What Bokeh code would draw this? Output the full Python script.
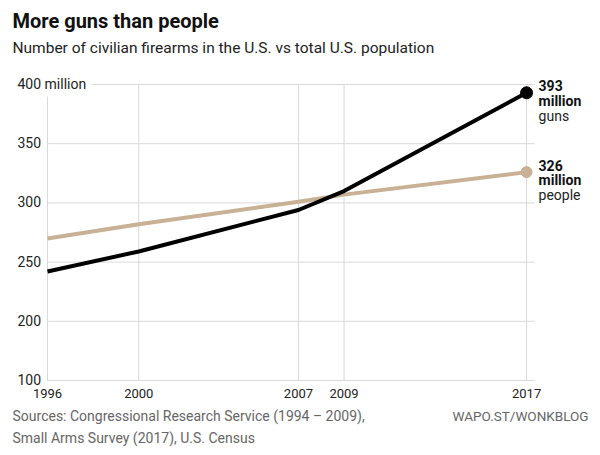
from bokeh.plotting import figure
from bokeh.models import Range1d, Label
from bokeh.core.properties import value
from bokeh.embed import file_html
from bokeh.resources import INLINE

# data
years = [1996, 2000, 2007, 2009, 2017]
guns = [242, 259, 294, 310, 393]          # million civilian firearms
people = [270, 282, 301, 307, 326]        # million U.S. population
y_ticks = [150, 200, 250, 300, 350, 400]  # bottom line is labelled 100 (broken axis)
y_labels = ["100", "200", "250", "300", "350", "400 million"]

# colours / fonts
c_guns = "#000000"
c_people = "#c8b194"
c_grid = "#d9d9d9"
c_text = "#222222"
c_note = "#666666"
FONT = "Roboto"

W, H = 592, 447
p = figure(width=W, height=H, output_backend="svg", toolbar_location=None,
           min_border=0, tools="")
p.x_range = Range1d(1993.94, 2019.89)
p.y_range = Range1d(93.41, 470.95)
p.axis.visible = False
p.grid.visible = False
p.outline_line_color = None
p.background_fill_color = "white"
p.border_fill_color = "white"

# grid lines
p.segment(x0=[years[0]] * len(y_ticks), x1=[years[-1] + 0.35] * len(y_ticks),
          y0=y_ticks, y1=y_ticks, line_color=c_grid, line_width=1)
p.segment(x0=years, x1=years, y0=[y_ticks[0]] * len(years), y1=[y_ticks[-1]] * len(years),
          line_color=c_grid, line_width=1)

# y labels (left aligned, white box hides grid behind "400 million")
p.text(x=[years[0]] * len(y_ticks), y=y_ticks, text=y_labels, x_offset=-35, y_offset=-1,
       text_align="left", text_baseline="middle", text_font=value(FONT),
       text_font_size="14px", text_color=c_text,
       background_fill_color="white", padding=5)

# x labels
p.text(x=years, y=[y_ticks[0]] * len(years), text=[str(y) for y in years], y_offset=13,
       text_align="center", text_baseline="middle", text_font=value(FONT),
       text_font_size="13px", text_color=c_text)

# lines
p.line(years, people, line_color=c_people, line_width=4)
p.line(years, guns, line_color=c_guns, line_width=4)
p.scatter([years[-1]], [people[-1]], size=11, color=c_people)
p.scatter([years[-1]], [guns[-1]], size=12, color=c_guns)

# end labels
for val, word in [(guns[-1], "guns"), (people[-1], "people")]:
    p.text(x=[years[-1]] * 2, y=[val] * 2, text=[str(val), "million"], x_offset=12,
           y_offset=[-7, 8], text_align="left", text_baseline="middle",
           text_font=value(FONT), text_font_style="bold", text_font_size="14px",
           text_color="#111111")
    p.text(x=[years[-1]], y=[val], text=[word], x_offset=12, y_offset=23,
           text_align="left", text_baseline="middle", text_font=value(FONT),
           text_font_size="14px", text_color=c_text)

# title, subtitle, footer
p.add_layout(Label(x=12, y=H - 20, x_units="screen", y_units="screen",
                   text="More guns than people", text_font=FONT, text_font_style="bold",
                   text_font_size="20px", text_color="#111111", text_baseline="middle"))
p.add_layout(Label(x=12, y=H - 47, x_units="screen", y_units="screen",
                   text="Number of civilian firearms in the U.S. vs total U.S. population",
                   text_font=FONT, text_font_size="15.5px", text_color=c_text,
                   text_baseline="middle"))
p.add_layout(Label(x=12, y=H - 415, x_units="screen", y_units="screen",
                   text="Sources: Congressional Research Service (1994 – 2009),",
                   text_font=FONT, text_font_size="14px", text_color=c_note,
                   text_baseline="middle"))
p.add_layout(Label(x=12, y=H - 437, x_units="screen", y_units="screen",
                   text="Small Arms Survey (2017), U.S. Census",
                   text_font=FONT, text_font_size="14px", text_color=c_note,
                   text_baseline="middle"))
p.add_layout(Label(x=588, y=H - 415, x_units="screen", y_units="screen",
                   text="WAPO.ST/WONKBLOG", text_font=FONT, text_font_size="13.5px",
                   text_color=c_note, text_align="right", text_baseline="middle"))

open("out.html", "w").write(file_html(p, INLINE))
